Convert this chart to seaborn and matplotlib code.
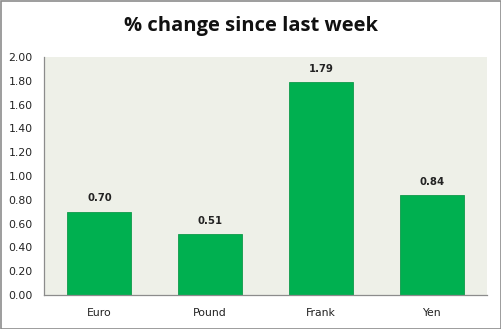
import matplotlib
matplotlib.use("Agg")
import matplotlib.pyplot as plt
import seaborn as sns
import pandas as pd
from matplotlib.patches import Rectangle

currencies = ["Euro", "Pound", "Frank", "Yen"]
pct_change = [0.70, 0.51, 1.79, 0.84]
y_ticks = [0.0, 0.2, 0.4, 0.6, 0.8, 1.0, 1.2, 1.4, 1.6, 1.8, 2.0]

df = pd.DataFrame({"currency": currencies, "change": pct_change})

sns.set_theme(style="white")
plt.rcParams["font.family"] = ["DejaVu Sans"]

fig = plt.figure(figsize=(5.02, 3.29), dpi=100)
fig.patch.set_facecolor("white")
ax = fig.add_axes([44 / 502, 1 - 295 / 329, 443 / 502, 238 / 329])
ax.set_facecolor("#EEF0E8")

sns.barplot(data=df, x="currency", y="change", color="#00B050",
            saturation=1, width=0.58, ax=ax, edgecolor="#0E9A4A", linewidth=0.6)

for i, v in enumerate(pct_change):
    ax.annotate(f"{v:.2f}", (i, v), xytext=(0, 6), textcoords="offset points",
                ha="center", va="bottom", fontsize=7.3, fontweight="bold",
                color="#222222")

ax.set_ylim(0, 2.0)
ax.set_xlim(-0.5, 3.5)
ax.set_yticks(y_ticks)
ax.set_yticklabels([f"{t:.2f}" for t in y_ticks], fontsize=7.8, color="#222222")
ax.tick_params(axis="x", labelsize=7.8, colors="#222222", pad=9, length=0)
ax.tick_params(axis="y", pad=8, length=0)
ax.set_xlabel("")
ax.set_ylabel("")

for side in ("top", "right"):
    ax.spines[side].set_visible(False)
for side in ("left", "bottom"):
    ax.spines[side].set_color("#8C8C8C")
    ax.spines[side].set_linewidth(0.9)

fig.text(0.5, 1 - 26 / 329, "% change since last week", ha="center", va="center",
         fontsize=14.5, fontweight="bold", family="Open Sans", color="#111111")

fig.patches.append(Rectangle((0.5 / 502, 0.5 / 329), 1 - 1 / 502, 1 - 1 / 329,
                             transform=fig.transFigure, fill=False,
                             edgecolor="#8C8C8C", linewidth=1.2))

fig.savefig("out.png", dpi=100)
